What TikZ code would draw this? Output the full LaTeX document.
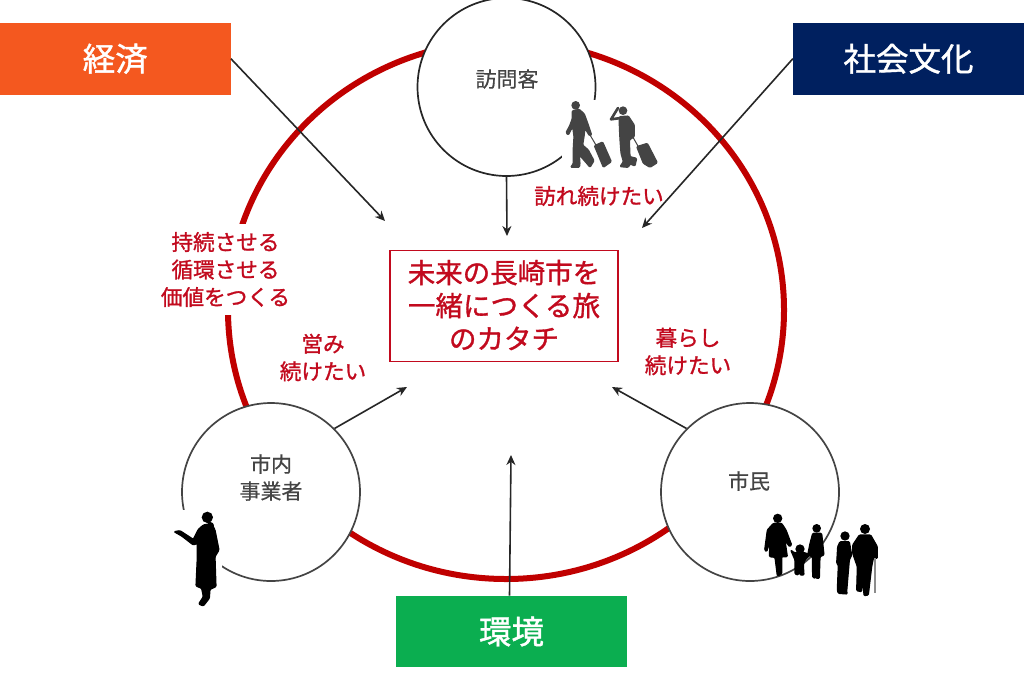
\documentclass[tikz,border=0pt]{standalone}
\usepackage{fontspec}
\usetikzlibrary{arrows.meta}
\setmainfont{Noto Sans CJK JP}
\newfontfamily\medfont[FakeBold=1.2]{Noto Sans CJK JP}
\newfontfamily\lightmed[FakeBold=0.5]{Noto Sans CJK JP}
\definecolor{ringred}{HTML}{C00000}
\definecolor{txtred}{HTML}{C20A1E}
\definecolor{econc}{HTML}{F4581F}
\definecolor{socc}{HTML}{00205F}
\definecolor{envc}{HTML}{0BAE50}
\definecolor{graytxt}{HTML}{444444}
\definecolor{sil}{HTML}{444444}
\tikzset{
  topicbox/.style={draw=none,inner sep=0pt,minimum width=231pt,minimum height=71.5pt,text=white,font=\medfont\fontsize{32.5}{36}\selectfont},
  actor/.style={circle,draw=#1,fill=white,line width=1.7pt,inner sep=0pt,minimum size=178pt},
  actorlabel/.style={text=graytxt,align=center,inner sep=0pt,font=\lightmed\fontsize{21}{27}\selectfont},
  redlabel/.style={text=txtred,align=center,inner sep=0pt,font=\medfont\fontsize{21.6}{27.5}\selectfont},
  flow/.style={draw=black!85,line width=1.6pt,-{Stealth[length=10pt,width=9pt]}},
  person/.style={fill=#1,draw=#1,line width=1.2pt,line join=round,rounded corners=1pt}
}
\begin{document}
\begin{tikzpicture}[x=1pt,y=-1pt]
\useasboundingbox (0,0) rectangle (1024,672);
\fill[white] (0,0) rectangle (1024,672);
% ring
\draw[ringred,line width=6pt] (506,310) ellipse [x radius=278,y radius=269];
% actors
\node[actor=black!85] (visitor) at (506.5,87) {};
\node[actor=graytxt] (bizc) at (271,492) {};
\node[actor=graytxt] (citc) at (750,492) {};
\node[actorlabel] (visitorl) at (507,79) {訪問客};
\node[actorlabel] (bizl) at (271,477.5) {市内\\事業者};
\node[actorlabel] (citl) at (749,481) {市民};
% photo backgrounds
\fill[white] (562,100) rectangle (664,170);
\fill[white] (172,510) rectangle (222,608);
\fill[white] (835,524) rectangle (882,600);
% travellers
\begin{scope}[shift={(540,90)},scale=1/3]
\fill[sil] (107,46) circle (13);
\filldraw[person=sil] (97,62)--(118,58)--(133,72)--(145,105)--(155,135)--(148,137)--(135,115)--(132,140)--(128,165)--(145,180)--(162,212)--(150,232)--(140,220)--(118,195)--(120,222)--(118,232)--(92,232)--(100,220)--(100,170)--(102,140)--(98,110)--(85,135)--(78,128)--(90,105)--(97,85)--cycle;
\draw[sil,line width=1pt] (150,135)--(172,172);
\filldraw[person=sil] (163,167)--(188,156)--(214,215)--(190,232)--cycle;
\fill[sil] (249,62) circle (13);
\draw[sil,line width=2.6pt,line join=round,line cap=round] (242,84)--(213,88)--(234,54);
\filldraw[person=sil] (238,80)--(265,78)--(283,105)--(283,140)--(268,150)--(270,200)--(290,205)--(285,228)--(270,222)--(265,232)--(240,230)--(250,215)--(243,190)--(240,150)--(238,110)--cycle;
\draw[sil,line width=1pt] (275,135)--(295,170);
\filldraw[person=sil] (290,170)--(322,160)--(352,218)--(330,232)--(310,220)--cycle;
\end{scope}
% woman
\begin{scope}[shift={(160,500)},scale=1/3]
\fill[black] (142,52) circle (17);
\filldraw[person=black] (145,65)--(160,72)--(158,88)--(148,85)--cycle;
\filldraw[person=black] (130,75)--(155,70)--(165,90)--(177,150)--(165,170)--(168,260)--(150,268)--(148,295)--(130,318)--(116,312)--(130,290)--(125,265)--(108,258)--(112,170)--(112,130)--(100,135)--(65,108)--(42,95)--(60,92)--(100,118)--(115,88)--cycle;
\end{scope}
% family
\begin{scope}[shift={(750,500)},scale=1/3]
\fill[black] (83,55) circle (14);
\filldraw[person=black] (70,70)--(95,70)--(108,90)--(125,135)--(118,140)--(105,120)--(112,170)--(95,170)--(95,222)--(82,228)--(75,172)--(58,170)--(60,125)--(50,155)--(44,150)--(52,90)--cycle;
\fill[black] (150,147) circle (14);
\filldraw[person=black] (133,158)--(165,158)--(180,165)--(165,180)--(160,195)--(162,225)--(150,225)--(147,205)--(145,225)--(135,222)--(135,180)--(122,150)--cycle;
\fill[black] (200,85) circle (13);
\filldraw[person=black] (188,100)--(215,100)--(222,165)--(210,170)--(208,235)--(198,235)--(195,195)--(197,235)--(188,232)--(187,170)--(173,165)--(180,130)--cycle;
\fill[black] (285,108) circle (14);
\filldraw[person=black] (270,125)--(298,125)--(305,165)--(298,180)--(290,275)--(292,282)--(265,280)--(262,270)--(265,195)--(260,190)--(263,140)--cycle;
\fill[black] (345,87) circle (15);
\filldraw[person=black] (328,105)--(362,105)--(382,140)--(382,175)--(370,175)--(365,200)--(355,285)--(342,287)--(338,225)--(335,275)--(320,272)--(322,200)--(308,160)--(308,135)--cycle;
\draw[black!45,line width=1.2pt] (375,175)--(375,278);
\end{scope}
% topic boxes
\node[topicbox,fill=econc] (econ) at (115.25,58.75) {経済};
\node[topicbox,fill=socc] (soc) at (908.5,58.75) {社会文化};
\node[topicbox,fill=envc] (env) at (511.5,631.5) {環境};
% centre
\node[draw=txtred,line width=1.2pt,fill=white,minimum width=228pt,minimum height=111pt,inner sep=0pt] (core) at (504,306) {};
\node[text=txtred,align=center,inner sep=0pt,font=\medfont\fontsize{27.5}{33}\selectfont] (corel) at (504,305) {未来の長崎市を\\一緒につくる旅\\のカタチ};
% labels
\node[redlabel,fill=white,inner xsep=6pt,inner ysep=8pt] (sustain) at (225.5,269.5) {持続させる\\循環させる\\価値をつくる};
\node[redlabel] (visitwish) at (599,196) {訪れ続けたい};
\node[redlabel] (bizwish) at (323,357.5) {営み\\続けたい};
\node[redlabel] (citwish) at (688,351.5) {暮らし\\続けたい};
% arrow ends
\coordinate (e1) at (385,221);
\coordinate (e2) at (642,228);
\coordinate (e3) at (507,236);
\coordinate (e4) at (511,455);
\coordinate (e5) at (407,387);
\coordinate (e6) at (612,387);
\draw[flow] (econ.east) -- (e1);
\draw[flow] (soc.west) -- (e2);
\draw[flow] (visitor.south) -- (e3);
\draw[flow] ([xshift=-2pt]env.north) -- (e4);
\draw[flow] (bizc.45) -- (e5);
\draw[flow] (citc.135) -- (e6);
\end{tikzpicture}
\end{document}
